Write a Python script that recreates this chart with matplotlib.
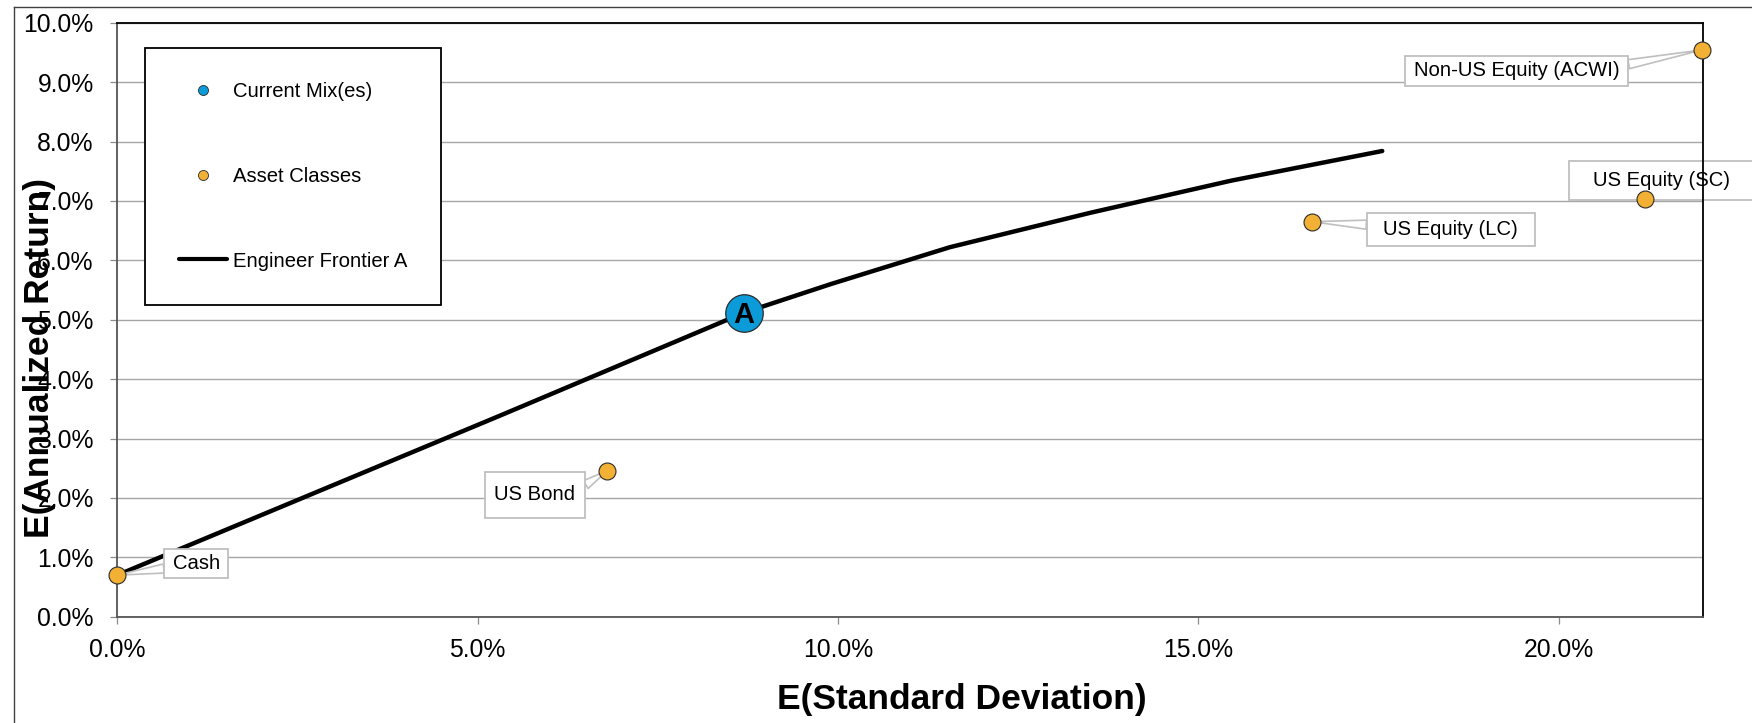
import matplotlib
matplotlib.use("Agg")
import matplotlib.pyplot as plt
from matplotlib.lines import Line2D
from matplotlib.path import Path
from matplotlib.ticker import PercentFormatter, FixedLocator

plt.rcParams["font.family"] = ["Liberation Sans", "DejaVu Sans"]

# ---- data (percent units) -------------------------------------------------
# Efficient frontier: expected standard deviation vs expected return
frontier_sd = [0.0, 5.3, 8.7, 9.9, 11.55, 13.5, 15.45, 17.55]
frontier_ret = [0.70, 3.38, 5.12, 5.60, 6.22, 6.80, 7.34, 7.84]

# Current portfolio mix
mix_names = ["A"]
mix_sd = [8.69]
mix_ret = [5.12]

# Individual asset classes
asset_names = ["Cash", "US Bond", "US Equity (LC)", "US Equity (SC)",
               "Non-US Equity (ACWI)"]
asset_sd = [0.0, 6.80, 16.58, 21.19, 21.98]
asset_ret = [0.70, 2.46, 6.65, 7.03, 9.54]

x_ticks = [0, 5, 10, 15, 20]
y_ticks = [0, 1, 2, 3, 4, 5, 6, 7, 8, 9, 10]

# ---- styling ----------------------------------------------------------------
BLUE = "#0A9BD8"
GOLD = "#F2B134"
EDGE = "#2B2B2B"
GRID = "#A6A6A6"
CALLOUT = "#BFBFBF"

# callout text centres, pointer anchor on the box, and box padding (em)
callout_pos = {
    "Cash": (1.095, 0.896),
    "US Bond": (5.795, 2.049),
    "US Equity (LC)": (18.50, 6.52),
    "US Equity (SC)": (21.43, 7.34),
    "Non-US Equity (ACWI)": (19.41, 9.19),
}
callout_rel = {
    "Cash": (0.0, 0.3),
    "US Bond": (1.0, 0.7),
    "US Equity (LC)": (0.0, 0.7),
    "US Equity (SC)": None,
    "Non-US Equity (ACWI)": (1.0, 0.75),
}
callout_pad = {
    "Cash": (0.40, 0.24),
    "US Bond": (0.47, 0.66),
    "US Equity (LC)": (0.81, 0.33),
    "US Equity (SC)": (1.18, 0.48),
    "Non-US Equity (ACWI)": (0.44, 0.27),
}


def rect_box(hpad, vpad):
    """Rectangular bbox style with separate horizontal/vertical padding."""
    def style(x0, y0, width, height, mutation_size):
        dx = hpad * mutation_size
        dy = vpad * mutation_size
        x1, y1 = x0 + width + dx, y0 + height + dy
        xa, ya = x0 - dx, y0 - dy
        verts = [(xa, ya), (x1, ya), (x1, y1), (xa, y1), (xa, ya)]
        codes = [Path.MOVETO] + [Path.LINETO] * 3 + [Path.CLOSEPOLY]
        return Path(verts, codes)
    return style


W, H = 1752, 723
fig = plt.figure(figsize=(W / 100, H / 100), dpi=100)
ax = fig.add_axes([117.3 / W, 1 - 616.7 / H, 1585.7 / W, 594.0 / H])

ax.set_xlim(0, 22)
ax.set_ylim(0, 10)
ax.xaxis.set_major_locator(FixedLocator(x_ticks))
ax.yaxis.set_major_locator(FixedLocator(y_ticks))
ax.xaxis.set_major_formatter(PercentFormatter(xmax=100, decimals=1))
ax.yaxis.set_major_formatter(PercentFormatter(xmax=100, decimals=1))

ax.grid(axis="y", color=GRID, lw=1.0, zorder=0)
ax.set_axisbelow(True)

ax.tick_params(axis="both", which="major", labelsize=17.8, color="#8C8C8C",
               length=5, width=0.9, labelcolor="black")
ax.tick_params(axis="x", pad=10.5)
ax.tick_params(axis="y", pad=12)

for side in ("top", "right"):
    ax.spines[side].set_color("black")
    ax.spines[side].set_linewidth(1.3)
for side in ("left", "bottom"):
    ax.spines[side].set_color("#555555")
    ax.spines[side].set_linewidth(1.3)
for sp in ax.spines.values():
    sp.set_zorder(4)

# frontier line
ax.plot(frontier_sd, frontier_ret, color="black", lw=3.2,
        solid_capstyle="round", zorder=2)

# asset-class callouts
for name, sd, ret in zip(asset_names, asset_sd, asset_ret):
    rel = callout_rel[name]
    arrow = None
    if rel is not None:
        arrow = dict(arrowstyle="wedge,tail_width=0.45,shrink_factor=0.5",
                     fc="white", ec=CALLOUT, lw=1.2, relpos=rel,
                     shrinkA=0, shrinkB=0)
    ax.annotate(name, xy=(sd, ret), xytext=callout_pos[name],
                textcoords="data", ha="center", va="center",
                fontsize=14.6, color="black",
                bbox=dict(boxstyle=rect_box(*callout_pad[name]), fc="white",
                          ec=CALLOUT, lw=1.3),
                arrowprops=arrow, annotation_clip=False, zorder=3)

# asset-class markers
ax.plot(asset_sd, asset_ret, ls="none", marker="o", ms=12.2, mfc=GOLD,
        mec=EDGE, mew=0.8, clip_on=False, zorder=5)

# current mix marker with its letter
ax.plot(mix_sd, mix_ret, ls="none", marker="o", ms=27, mfc=BLUE,
        mec=EDGE, mew=0.9, clip_on=False, zorder=5)
for name, sd, ret in zip(mix_names, mix_sd, mix_ret):
    ax.annotate(name, xy=(sd, ret), xytext=(0, -1.5),
                textcoords="offset points", ha="center", va="center",
                fontsize=21, fontweight="bold", color="black", zorder=6)

# legend
handles = [
    Line2D([], [], ls="none", marker="o", ms=7.2, mfc=BLUE, mec=EDGE,
           mew=0.6, label="Current Mix(es)"),
    Line2D([], [], ls="none", marker="o", ms=7.2, mfc=GOLD, mec=EDGE,
           mew=0.6, label="Asset Classes"),
    Line2D([], [], color="black", lw=3.0, solid_capstyle="round",
           label="Engineer Frontier A"),
]
leg = ax.legend(handles=handles, loc="upper left",
                bbox_to_anchor=(0.01747, 0.9579), borderaxespad=0,
                fontsize=14.6, frameon=True, fancybox=False,
                edgecolor="black", framealpha=1, borderpad=1.68,
                labelspacing=3.25, handlelength=2.35, handletextpad=0.29)
leg.get_frame().set_linewidth(1.3)

# axis titles
ax.set_xlabel("E(Standard Deviation)", fontsize=25.5, fontweight="bold",
              va="center")
ax.xaxis.set_label_coords(0.5325, -0.1394)
ax.set_ylabel("E(Annualized Return)", fontsize=25.5, fontweight="bold",
              va="center")
ax.yaxis.set_label_coords(-0.04875, 0.4347)

# outer chart-area frame
fig.add_artist(Line2D([14 / W, 14 / W], [0, 1 - 7 / H],
                      transform=fig.transFigure, color="#404040", lw=1.0))
fig.add_artist(Line2D([14 / W, 1], [1 - 7 / H, 1 - 7 / H],
                      transform=fig.transFigure, color="#404040", lw=1.0))

fig.savefig("out.png", dpi=100, facecolor="white")
